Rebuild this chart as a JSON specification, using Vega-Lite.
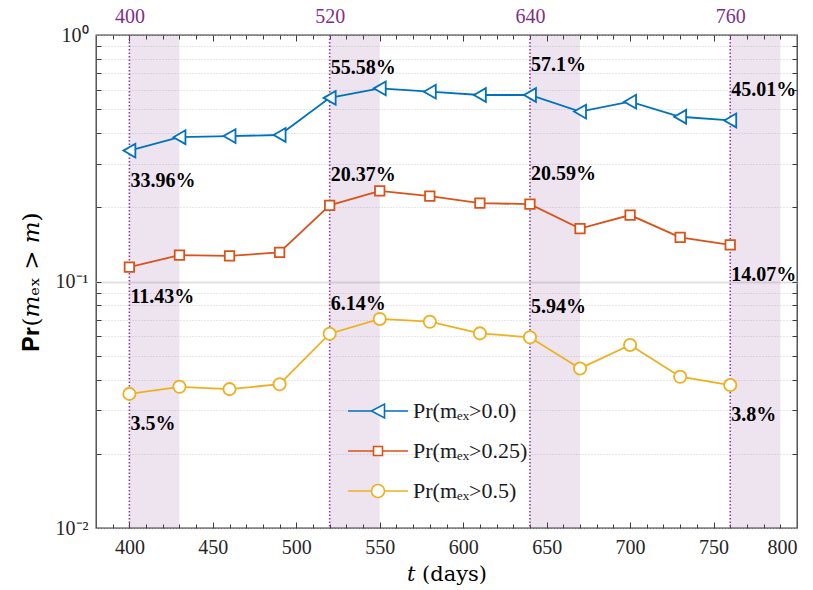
{
  "$schema": "https://vega.github.io/schema/vega-lite/v6.json",
  "width": 701,
  "height": 493,
  "autosize": {"type": "none"},
  "padding": {"left": 96, "top": 35, "right": 16, "bottom": 62},
  "background": "white",
  "config": {
    "view": {"stroke": "#3c3c3c", "strokeWidth": 1.3},
    "axis": {"domain": false, "labelFont": "Liberation Serif", "labelFontSize": 20, "labelColor": "#262626", "tickColor": "#3c3c3c", "tickWidth": 1, "labelOverlap": false, "titleFont": "Liberation Serif", "titleColor": "#000000", "titleFontWeight": "normal"}
  },
  "datasets": {
    "main": [
      {"t": 400, "series": "Pr(mₑₓ>0.0)", "p": 0.3396, "label": "33.96%"},
      {"t": 430, "series": "Pr(mₑₓ>0.0)", "p": 0.385},
      {"t": 460, "series": "Pr(mₑₓ>0.0)", "p": 0.389},
      {"t": 490, "series": "Pr(mₑₓ>0.0)", "p": 0.393},
      {"t": 520, "series": "Pr(mₑₓ>0.0)", "p": 0.5558, "label": "55.58%"},
      {"t": 550, "series": "Pr(mₑₓ>0.0)", "p": 0.6075},
      {"t": 580, "series": "Pr(mₑₓ>0.0)", "p": 0.589},
      {"t": 610, "series": "Pr(mₑₓ>0.0)", "p": 0.571},
      {"t": 640, "series": "Pr(mₑₓ>0.0)", "p": 0.571, "label": "57.1%"},
      {"t": 670, "series": "Pr(mₑₓ>0.0)", "p": 0.489},
      {"t": 700, "series": "Pr(mₑₓ>0.0)", "p": 0.5365},
      {"t": 730, "series": "Pr(mₑₓ>0.0)", "p": 0.466},
      {"t": 760, "series": "Pr(mₑₓ>0.0)", "p": 0.4501, "label": "45.01%"},
      {"t": 400, "series": "Pr(mₑₓ>0.25)", "p": 0.1143, "label": "11.43%"},
      {"t": 430, "series": "Pr(mₑₓ>0.25)", "p": 0.128},
      {"t": 460, "series": "Pr(mₑₓ>0.25)", "p": 0.127},
      {"t": 490, "series": "Pr(mₑₓ>0.25)", "p": 0.1313},
      {"t": 520, "series": "Pr(mₑₓ>0.25)", "p": 0.2037, "label": "20.37%"},
      {"t": 550, "series": "Pr(mₑₓ>0.25)", "p": 0.233},
      {"t": 580, "series": "Pr(mₑₓ>0.25)", "p": 0.222},
      {"t": 610, "series": "Pr(mₑₓ>0.25)", "p": 0.208},
      {"t": 640, "series": "Pr(mₑₓ>0.25)", "p": 0.2059, "label": "20.59%"},
      {"t": 670, "series": "Pr(mₑₓ>0.25)", "p": 0.164},
      {"t": 700, "series": "Pr(mₑₓ>0.25)", "p": 0.186},
      {"t": 730, "series": "Pr(mₑₓ>0.25)", "p": 0.151},
      {"t": 760, "series": "Pr(mₑₓ>0.25)", "p": 0.1407, "label": "14.07%"},
      {"t": 400, "series": "Pr(mₑₓ>0.5)", "p": 0.035, "label": "3.5%"},
      {"t": 430, "series": "Pr(mₑₓ>0.5)", "p": 0.0374},
      {"t": 460, "series": "Pr(mₑₓ>0.5)", "p": 0.0366},
      {"t": 490, "series": "Pr(mₑₓ>0.5)", "p": 0.0383},
      {"t": 520, "series": "Pr(mₑₓ>0.5)", "p": 0.0614, "label": "6.14%"},
      {"t": 550, "series": "Pr(mₑₓ>0.5)", "p": 0.0705},
      {"t": 580, "series": "Pr(mₑₓ>0.5)", "p": 0.0687},
      {"t": 610, "series": "Pr(mₑₓ>0.5)", "p": 0.0616},
      {"t": 640, "series": "Pr(mₑₓ>0.5)", "p": 0.0594, "label": "5.94%"},
      {"t": 670, "series": "Pr(mₑₓ>0.5)", "p": 0.0444},
      {"t": 700, "series": "Pr(mₑₓ>0.5)", "p": 0.0553},
      {"t": 730, "series": "Pr(mₑₓ>0.5)", "p": 0.0411},
      {"t": 760, "series": "Pr(mₑₓ>0.5)", "p": 0.038, "label": "3.8%"}
    ],
    "windows": [
      {"start": 400, "end": 430},
      {"start": 520, "end": 550},
      {"start": 640, "end": 670},
      {"start": 760, "end": 790}
    ]
  },
  "layer": [
    {
      "data": {"name": "windows"},
      "mark": {"type": "rect", "color": "#7E2F8E", "opacity": 0.13},
      "encoding": {
        "x": {"field": "start", "type": "quantitative", "scale": {"domain": [380, 800], "nice": false, "zero": false},
          "axis": {"orient": "bottom", "values": [400, 450, 500, 550, 600, 650, 700, 750, 800], "ticks": false, "grid": false, "labelPadding": 9, "labelFont": "Liberation Serif", "labelFontSize": 20, "labelColor": "#262626", "title": "𝑡 (days)", "titleFont": "DejaVu Serif", "titleFontWeight": "normal", "titleFontSize": 21, "titlePadding": 6}},
        "x2": {"field": "end"}
      }
    },
    {
      "data": {"name": "windows"},
      "mark": {"type": "rule", "color": "#8E3FA8", "strokeDash": [1.5, 2], "strokeWidth": 1.6},
      "encoding": {
        "x": {"field": "start", "type": "quantitative", "scale": {"domain": [380, 800], "nice": false, "zero": false},
          "axis": {"orient": "top", "values": [400, 520, 640, 760], "ticks": false, "grid": false, "labelPadding": 9, "labelFont": "Liberation Serif", "labelFontSize": 20, "labelColor": "#7E2F8E", "title": null}}
      }
    },
    {
      "data": {"name": "main"},
      "mark": {"type": "line", "strokeWidth": 1.8},
      "encoding": {
        "x": {"field": "t", "type": "quantitative", "scale": {"domain": [380, 800], "nice": false, "zero": false},
          "axis": {"orient": "bottom", "values": [390, 400, 410, 420, 430, 440, 450, 460, 470, 480, 490, 500, 510, 520, 530, 540, 550, 560, 570, 580, 590, 600, 610, 620, 630, 640, 650, 660, 670, 680, 690, 700, 710, 720, 730, 740, 750, 760, 770, 780, 790], "labels": false, "grid": false, "title": null,
            "tickSize": {"condition": {"test": "datum.value % 50 == 0", "value": -6}, "value": -4}}},
        "y": {"field": "p", "type": "quantitative", "scale": {"type": "log", "domain": [0.01, 1], "nice": false},
          "axis": {"orient": "left", "values": [0.01, 0.02, 0.03, 0.04, 0.05, 0.06, 0.07, 0.08, 0.09, 0.1, 0.2, 0.3, 0.4, 0.5, 0.6, 0.7, 0.8, 0.9, 1],
            "labelExpr": "datum.value == 1 ? '10⁰' : datum.value == 0.1 ? '10⁻¹' : datum.value == 0.01 ? '10⁻²' : ''",
            "labelFont": "Liberation Serif", "labelFontSize": 20, "labelColor": "#262626",
            "ticks": false, "labelPadding": 8, "grid": true,
            "gridColor": {"condition": {"test": "datum.value == 0.1", "value": "#e2e2e2"}, "value": "#c4c4c4"},
            "gridDash": {"condition": {"test": "datum.value == 0.1", "value": []}, "value": [1, 2]},
            "gridWidth": {"condition": {"test": "datum.value == 0.1", "value": 2}, "value": 0.8},
            "title": "𝐏𝐫(𝑚ₑₓ > 𝑚)", "titleFont": "DejaVu Serif", "titleFontWeight": "normal", "titleFontSize": 23, "titlePadding": 12}},
        "color": {"field": "series", "type": "nominal",
          "scale": {"domain": ["Pr(mₑₓ>0.0)", "Pr(mₑₓ>0.25)", "Pr(mₑₓ>0.5)"], "range": ["#0072BD", "#D95319", "#EDB120"]},
          "legend": {"orient": "none", "legendX": 271, "legendY": 365, "title": null, "padding": 0,
            "labelFont": "Liberation Serif", "labelFontSize": 22, "labelColor": "#1a1a1a", "labelOffset": 24,
            "symbolSize": 100, "symbolStrokeWidth": 1.6, "symbolFillColor": "white", "rowPadding": 18,
            "encode": {"symbols": {"update": {
              "shape": {"signal": "datum.value === 'Pr(mₑₓ>0.0)' ? 'M-6,0H-1.3M1.3,0H6M-1.3,0L1.3,-1.4L1.3,1.4Z' : datum.value === 'Pr(mₑₓ>0.25)' ? 'M-6,0H-0.9M0.9,0H6M-0.9,-0.9H0.9V0.9H-0.9Z' : 'M-6,0H-1.3M1.3,0H6M-1.3,0A1.3,1.3 0 1,0 1.3,0A1.3,1.3 0 1,0 -1.3,0Z'"},
              "fill": {"value": "white"},
              "strokeWidth": {"value": 1.6}}}}}}
      }
    },
    {
      "data": {"name": "main"},
      "transform": [{"filter": "datum.series == 'Pr(mₑₓ>0.0)'"}],
      "mark": {"type": "point", "shape": "triangle-left", "size": 190, "filled": false, "fill": "white", "fillOpacity": 1, "strokeWidth": 1.8, "opacity": 1},
      "encoding": {
        "x": {"field": "t", "type": "quantitative", "scale": {"domain": [380, 800], "nice": false, "zero": false},
          "axis": {"orient": "top", "values": [390, 400, 410, 420, 430, 440, 450, 460, 470, 480, 490, 500, 510, 520, 530, 540, 550, 560, 570, 580, 590, 600, 610, 620, 630, 640, 650, 660, 670, 680, 690, 700, 710, 720, 730, 740, 750, 760, 770, 780, 790], "labels": false, "grid": false, "title": null,
            "tickSize": {"condition": {"test": "datum.value % 50 == 0", "value": -6}, "value": -4}}},
        "y": {"field": "p", "type": "quantitative", "scale": {"type": "log", "domain": [0.01, 1], "nice": false},
          "axis": {"orient": "left", "values": [0.02, 0.03, 0.04, 0.05, 0.06, 0.07, 0.08, 0.09, 0.1, 0.2, 0.3, 0.4, 0.5, 0.6, 0.7, 0.8, 0.9],
            "labels": false, "grid": false, "title": null, "tickSize": -5}},
        "color": {"field": "series", "type": "nominal", "legend": null}
      }
    },
    {
      "data": {"name": "main"},
      "transform": [{"filter": "datum.series == 'Pr(mₑₓ>0.25)'"}],
      "mark": {"type": "point", "shape": "square", "size": 90, "filled": false, "fill": "white", "fillOpacity": 1, "strokeWidth": 1.8, "opacity": 1},
      "encoding": {
        "x": {"field": "t", "type": "quantitative", "axis": null},
        "y": {"field": "p", "type": "quantitative", "axis": null},
        "color": {"field": "series", "type": "nominal", "legend": null}
      }
    },
    {
      "data": {"name": "main"},
      "transform": [{"filter": "datum.series == 'Pr(mₑₓ>0.5)'"}],
      "mark": {"type": "point", "shape": "circle", "size": 150, "filled": false, "fill": "white", "fillOpacity": 1, "strokeWidth": 1.8, "opacity": 1},
      "encoding": {
        "x": {"field": "t", "type": "quantitative", "axis": null},
        "y": {"field": "p", "type": "quantitative", "axis": null},
        "color": {"field": "series", "type": "nominal", "legend": null}
      }
    },
    {
      "data": {"name": "main"},
      "transform": [{"filter": "isValid(datum.label) && datum.t != 400 && !(datum.t == 760 && indexof(datum.series, '0.0') < 0)"}],
      "mark": {"type": "text", "align": "left", "baseline": "middle", "dx": 1, "dy": -30, "font": "Liberation Serif", "fontWeight": "bold", "fontSize": 20, "color": "#000000"},
      "encoding": {
        "x": {"field": "t", "type": "quantitative", "axis": null},
        "y": {"field": "p", "type": "quantitative", "scale": {"type": "log", "domain": [0.01, 1], "nice": false},
          "axis": {"orient": "right", "values": [0.02, 0.03, 0.04, 0.05, 0.06, 0.07, 0.08, 0.09, 0.1, 0.2, 0.3, 0.4, 0.5, 0.6, 0.7, 0.8, 0.9],
            "labels": false, "grid": false, "title": null, "tickSize": -5}},
        "text": {"field": "label"}
      }
    },
    {
      "data": {"name": "main"},
      "transform": [{"filter": "isValid(datum.label) && (datum.t == 400 || (datum.t == 760 && indexof(datum.series, '0.0') < 0))"}],
      "mark": {"type": "text", "align": "left", "baseline": "middle", "dx": 1, "dy": 30, "font": "Liberation Serif", "fontWeight": "bold", "fontSize": 20, "color": "#000000"},
      "encoding": {
        "x": {"field": "t", "type": "quantitative", "axis": null},
        "y": {"field": "p", "type": "quantitative", "axis": null},
        "text": {"field": "label"}
      }
    }
  ],
  "resolve": {"axis": {"x": "independent", "y": "independent"}}
}
